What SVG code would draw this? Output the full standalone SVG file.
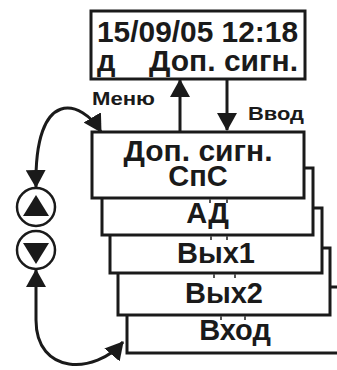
<svg xmlns="http://www.w3.org/2000/svg" width="337" height="370" viewBox="0 0 337 370">
<style>
.box{fill:#fff;stroke:#1a1a1a;stroke-width:3}
.t{font-family:"Liberation Sans",Arial,sans-serif;font-weight:bold;fill:#1a1a1a}
.big{font-size:29px;text-anchor:middle}
.lbl{font-size:19px}
.ln{fill:none;stroke:#1a1a1a;stroke-width:3}
.tick{stroke:#555;stroke-width:2}
.circ{fill:#fff;stroke:#1a1a1a;stroke-width:2.5}
.tri{fill:#1a1a1a}
</style>
<defs>
<marker id="ah" markerUnits="userSpaceOnUse" viewBox="0 0 18 20" markerWidth="18" markerHeight="20" refX="17" refY="10" orient="auto-start-reverse">
<path d="M0,0 L18,10 L0,20 z" fill="#1a1a1a"/>
</marker>
</defs>
<g id="display">
<rect class="box" x="91" y="11" width="214" height="68"/>
<text class="t" x="97" y="42" font-size="30" textLength="201" lengthAdjust="spacingAndGlyphs">15/09/05 12:18</text>
<text class="t" y="71" font-size="29"><tspan x="97">д</tspan><tspan x="149" textLength="149" lengthAdjust="spacingAndGlyphs">Доп. сигн.</tspan></text>
</g>
<g id="box5">
<rect class="box" x="127" y="287" width="215" height="66"/>
<text class="t big" x="235" y="340">Вход</text>
</g>
<g id="box4">
<rect class="box" x="118" y="248" width="212" height="67"/>
<text class="t big" x="224" y="303">Вых2</text>
</g>
<g id="box3">
<rect class="box" x="110" y="208" width="212" height="65"/>
<text class="t big" x="216" y="263">Вых1</text>
</g>
<g id="box2">
<rect class="box" x="102" y="168" width="211" height="67"/>
<text class="t big" x="207.5" y="223">АД</text>
</g>
<g id="box1">
<rect class="box" x="92" y="132" width="212" height="66"/>
<text class="t big" x="198" y="161" textLength="149" lengthAdjust="spacingAndGlyphs">Доп. сигн.</text>
<text class="t big" x="198" y="186">СпС</text>
</g>
<g id="ticks">
<line class="tick" x1="210" y1="199" x2="210" y2="203"/>
<line class="tick" x1="227" y1="199" x2="227" y2="203"/>
<line class="tick" x1="211" y1="236" x2="211" y2="240"/>
<line class="tick" x1="227" y1="236" x2="227" y2="240"/>
<line class="tick" x1="214" y1="274" x2="214" y2="278"/>
<line class="tick" x1="235" y1="274" x2="235" y2="278"/>
<line class="tick" x1="221" y1="316" x2="221" y2="320"/>
<line class="tick" x1="245" y1="316" x2="245" y2="320"/>
</g>
<g id="btn-up">
<circle class="circ" cx="36" cy="207" r="19"/>
<polygon class="tri" points="36,195 49,216 23,216"/>
</g>
<g id="btn-down">
<circle class="circ" cx="36" cy="250" r="19"/>
<polygon class="tri" points="23,243 49,243 36,264"/>
</g>
<g id="labels">
<text class="t lbl" x="92" y="105" textLength="63" lengthAdjust="spacingAndGlyphs">Меню</text>
<text class="t lbl" x="248" y="120" textLength="56" lengthAdjust="spacingAndGlyphs">Ввод</text>
</g>
<g id="connectors">
<line class="ln" x1="180" y1="131" x2="180" y2="80" marker-end="url(#ah)"/>
<line class="ln" x1="227" y1="80" x2="227" y2="130" marker-end="url(#ah)"/>
<path class="ln" d="M36,187 C34,85 82,100 101,132" marker-start="url(#ah)" marker-end="url(#ah)"/>
<path class="ln" d="M36,270 L36,320 C36,375 95,375 123,342" marker-start="url(#ah)" marker-end="url(#ah)"/>
</g>
</svg>
